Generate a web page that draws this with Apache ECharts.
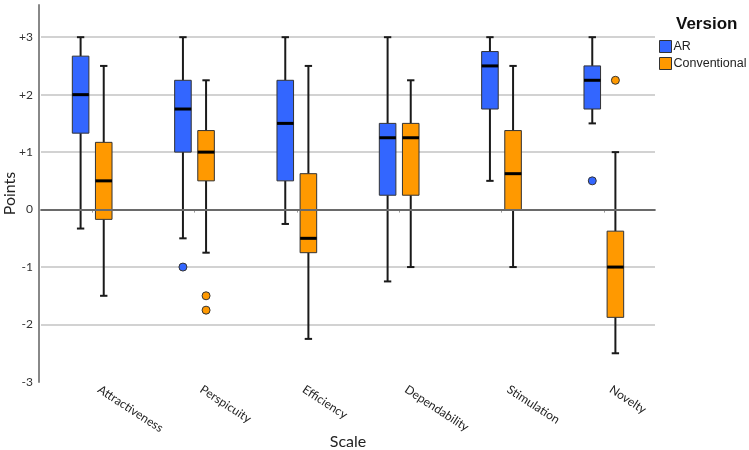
<!DOCTYPE html>
<html>
<head>
<meta charset="utf-8">
<script src="https://cdn.jsdelivr.net/npm/echarts@6/dist/echarts.min.js"></script>
<style>html,body{margin:0;padding:0;background:#fff}#c{width:749px;height:450px}</style>
</head>
<body>
<div id="c"></div>
<script>
const categories = ['Attractiveness','Perspicuity','Efficiency','Dependability','Stimulation','Novelty'];
const yTicks = [-3,-2,-1,0,1,2,3];
// [low whisker, Q1, median, Q3, high whisker]
const arBoxes = [
  [-0.33, 1.33, 2.0, 2.67, 3.0],
  [-0.5, 1.0, 1.75, 2.25, 3.0],
  [-0.25, 0.5, 1.5, 2.25, 3.0],
  [-1.25, 0.25, 1.25, 1.5, 3.0],
  [0.5, 1.75, 2.5, 2.75, 3.0],
  [1.5, 1.75, 2.25, 2.5, 3.0]
];
const convBoxes = [
  [-1.5, -0.17, 0.5, 1.17, 2.5],
  [-0.75, 0.5, 1.0, 1.375, 2.25],
  [-2.25, -0.75, -0.5, 0.625, 2.5],
  [-1.0, 0.25, 1.25, 1.5, 2.25],
  [-1.0, 0.0, 0.625, 1.375, 2.5],
  [-2.5, -1.875, -1.0, -0.375, 1.0]
];
// [category index, value]
const arOutliers = [[1, -1.0], [5, 0.5]];
const convOutliers = [[1, -1.5], [1, -1.75], [5, 2.25]];

const AR_COLOR = '#3366ff';
const CONV_COLOR = '#ff9900';
const EDGE = '#333333';

function boxRender(offsetFrac, color) {
  return function (params, api) {
    const c = api.value(0);
    const band = api.size([1, 0])[0];
    const pLow = api.coord([c, api.value(1)]);
    const pQ1 = api.coord([c, api.value(2)]);
    const pMed = api.coord([c, api.value(3)]);
    const pQ3 = api.coord([c, api.value(4)]);
    const pHigh = api.coord([c, api.value(5)]);
    const cx = pLow[0] + offsetFrac * band;
    const hw = band * 0.081;
    const cap = band * 0.036;
    const wl = {stroke: '#1a1a1a', lineWidth: 2};
    return {
      type: 'group',
      children: [
        {type: 'line', shape: {x1: cx, y1: pHigh[1], x2: cx, y2: pQ3[1]}, style: wl},
        {type: 'line', shape: {x1: cx, y1: pQ1[1], x2: cx, y2: pLow[1]}, style: wl},
        {type: 'line', shape: {x1: cx - cap, y1: pHigh[1], x2: cx + cap, y2: pHigh[1]}, style: wl},
        {type: 'line', shape: {x1: cx - cap, y1: pLow[1], x2: cx + cap, y2: pLow[1]}, style: wl},
        {type: 'rect', shape: {x: cx - hw, y: pQ3[1], width: 2 * hw, height: pQ1[1] - pQ3[1]},
          style: {fill: color, stroke: EDGE, lineWidth: 1}},
        {type: 'line', shape: {x1: cx - hw, y1: pMed[1], x2: cx + hw, y2: pMed[1]},
          style: {stroke: '#000', lineWidth: 3}}
      ]
    };
  };
}
function outlierRender(offsetFrac, color) {
  return function (params, api) {
    const c = api.value(0);
    const band = api.size([1, 0])[0];
    const p = api.coord([c, api.value(1)]);
    return {type: 'circle', shape: {cx: p[0] + offsetFrac * band, cy: p[1], r: 4},
      style: {fill: color, stroke: EDGE, lineWidth: 1}};
  };
}
const toData = arr => arr.map((b, i) => [i].concat(b));
const OFF = 0.113;

const chart = echarts.init(document.getElementById('c'));
chart.setOption({
  animation: false,
  title: {text: 'Version', left: 676, top: 16, padding: 0,
    textStyle: {fontFamily: 'Liberation Sans', fontWeight: 'bold', fontSize: 17, color: '#111'}},
  legend: {
    orient: 'vertical', left: 659, top: 40, itemWidth: 12, itemHeight: 12, itemGap: 4, padding: 0,
    icon: 'rect',
    textStyle: {fontFamily: 'Liberation Sans', fontSize: 12.5, color: '#222', padding: [0,0,0,-3]},
    data: [
      {name: 'AR', itemStyle: {color: AR_COLOR, borderColor: EDGE, borderWidth: 1}},
      {name: 'Conventional', itemStyle: {color: CONV_COLOR, borderColor: EDGE, borderWidth: 1}}
    ]
  },
  grid: {left: 41, right: 94, top: 5, bottom: 68, containLabel: false, outerBoundsMode: 'none'},
  xAxis: {
    type: 'category', data: categories,
    name: 'Scale', nameLocation: 'middle', nameGap: 52, nameMoveOverlap: false,
    nameTextStyle: {fontFamily: 'Lato', fontSize: 16, color: '#222'},
    axisLine: {lineStyle: {color: '#888', width: 2}},
    axisTick: {show: true, alignWithLabel: true, length: 3, lineStyle: {color: '#999'}},
    axisLabel: {rotate: -33, fontFamily: 'Lato', fontSize: 12, color: '#222', margin: 2,
      padding: [0, 0, 0, 8], interval: 0},
    splitLine: {show: false}
  },
  yAxis: {
    type: 'value', min: -3, max: 3.56, interval: 1, offset: 2,
    name: 'Points', nameLocation: 'middle', nameGap: 21, nameMoveOverlap: false,
    nameTextStyle: {fontFamily: 'Lato', fontSize: 16, color: '#222'},
    axisLine: {show: true, lineStyle: {color: '#888', width: 2}},
    axisTick: {show: false},
    axisLabel: {
      showMaxLabel: false, fontFamily: 'Lato', fontSize: 12, color: '#333', margin: 6,
      formatter: v => (yTicks.indexOf(v) < 0 ? '' : (v > 0 ? '+' + v : String(v)))
    },
    splitLine: {show: true, showMaxLine: false, showMinLine: false, lineStyle: {color: '#d2d2d2', width: 2}}
  },
  series: [
    {name: 'AR', type: 'custom', renderItem: boxRender(-OFF, AR_COLOR), data: toData(arBoxes),
      itemStyle: {color: AR_COLOR}, encode: {x: 0, y: [1, 2, 3, 4, 5]}, z: 3},
    {name: 'Conventional', type: 'custom', renderItem: boxRender(OFF, CONV_COLOR), data: toData(convBoxes),
      itemStyle: {color: CONV_COLOR}, encode: {x: 0, y: [1, 2, 3, 4, 5]}, z: 3},
    {name: 'AR', type: 'custom', renderItem: outlierRender(-OFF, AR_COLOR), data: arOutliers,
      itemStyle: {color: AR_COLOR}, encode: {x: 0, y: 1}, z: 3},
    {name: 'Conventional', type: 'custom', renderItem: outlierRender(OFF, CONV_COLOR), data: convOutliers,
      itemStyle: {color: CONV_COLOR}, encode: {x: 0, y: 1}, z: 3,
      markLine: {silent: true, symbol: 'none', label: {show: false}, z: 10,
        lineStyle: {color: '#6a6a6a', width: 2, type: 'solid'}, data: [{yAxis: 0}]}}
  ]
});
</script>
</body>
</html>
